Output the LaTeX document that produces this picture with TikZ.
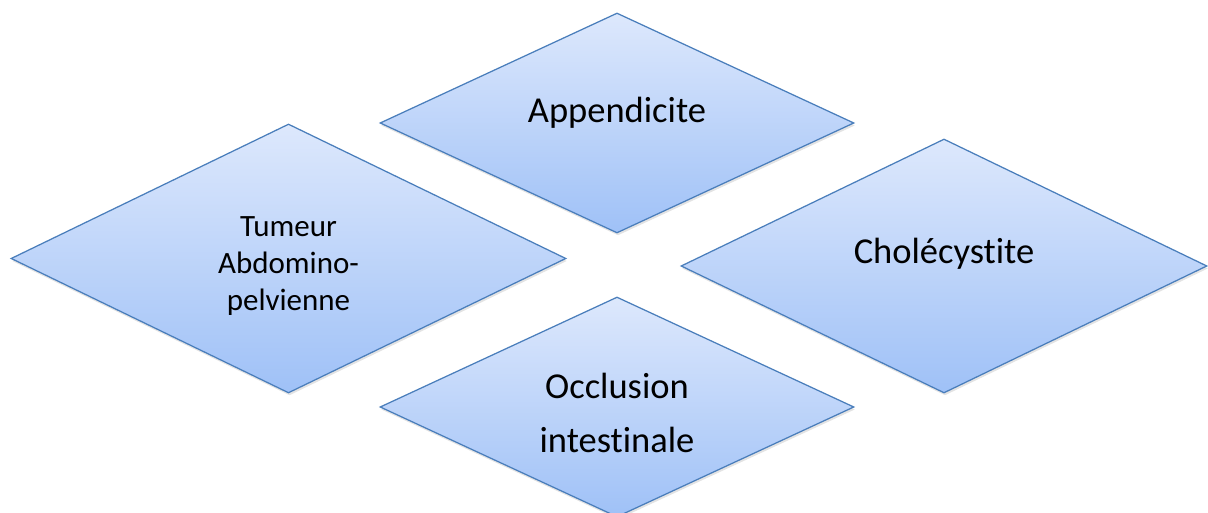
\documentclass[tikz,border=0pt]{standalone}
\usepackage{fontspec}
\setmainfont{Carlito}[Ligatures=NoCommon]
\usetikzlibrary{shapes.geometric, shadows, calc}
\definecolor{ddxline}{RGB}{74,126,187}
\definecolor{ddxtop}{RGB}{221,232,252}
\definecolor{ddxbottom}{RGB}{159,193,247}
\tikzstyle{ddxbox} = [diamond, draw=ddxline, line width=1.25pt, top color=ddxtop, bottom color=ddxbottom, inner sep=0pt, drop shadow={shadow xshift=1pt, shadow yshift=-2.5pt, opacity=0.22}]
\tikzstyle{ddxtext} = [align=center, text=black, inner sep=0pt]

\begin{document}
\begin{tikzpicture}[x=1pt,y=1pt]
	\useasboundingbox (0,0) rectangle (1208,513);
	% the four diagnoses
	\node[ddxbox, minimum width=474pt, minimum height=220pt](appendicite) at (617,390) {};
	\node[ddxbox, minimum width=555pt, minimum height=269pt](tumeur) at (288.5,254.5) {};
	\node[ddxbox, minimum width=526pt, minimum height=254pt](cholecystite) at (944,247) {};
	\node[ddxbox, minimum width=474pt, minimum height=220pt](occlusion) at (617,106) {};
	% labels
	\node[ddxtext, font=\fontsize{36.5}{44}\selectfont, anchor=base](appendicite_txt) at ($(appendicite.center)+(0,0)$) {Appendicite};
	\node[ddxtext, font=\fontsize{31}{37}\selectfont](tumeur_txt) at ($(tumeur.center)+(0,-8)$) {Tumeur\\Abdomino-\\pelvienne};
	\node[ddxtext, font=\fontsize{36.5}{44}\selectfont, anchor=base](cholecystite_txt) at ($(cholecystite.center)+(0,2)$) {Cholécystite};
	\node[ddxtext, font=\fontsize{36.5}{54}\selectfont](occlusion_txt) at ($(occlusion.center)+(0,-6)$) {Occlusion\\intestinale};
\end{tikzpicture}
\end{document}
